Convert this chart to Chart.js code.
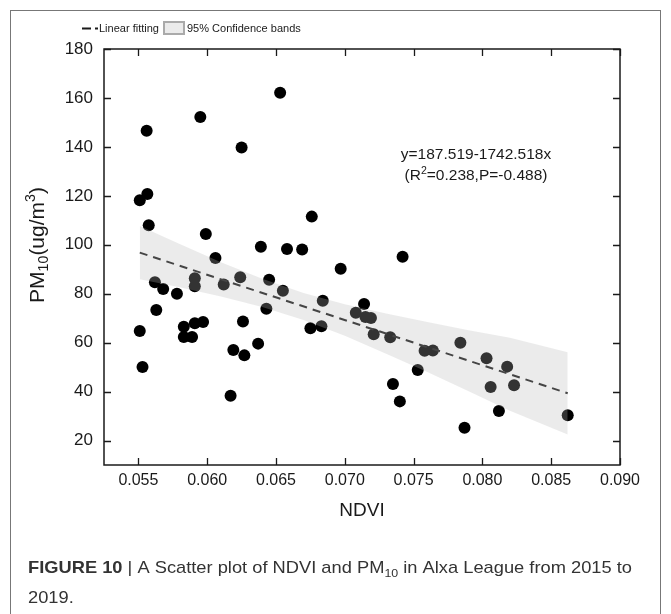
<!DOCTYPE html>
<html>
<head>
<meta charset="utf-8">
<script src="https://cdn.jsdelivr.net/npm/chart.js@4.4.1/dist/chart.umd.min.js"></script>
<style>
  html, body { margin: 0; padding: 0; background: #fff; }
  #wrap { width: 671px; height: 614px; position: relative; }
</style>
</head>
<body>
<div id="wrap"><canvas id="chart"></canvas></div>
<script>
// NDVI / PM10 pairs
const ndvi = [
  0.0653, 0.0595, 0.0556, 0.0625, 0.05565, 0.0551, 0.05575, 0.0599, 0.0639, 0.0658,
  0.0606, 0.0562, 0.0568, 0.0578, 0.0591, 0.0591, 0.0612, 0.0624, 0.0645, 0.0655,
  0.0643, 0.0563, 0.0551, 0.0583, 0.0583, 0.0589, 0.0591, 0.0597, 0.0626, 0.0619,
  0.0627, 0.0637, 0.0553, 0.0617, 0.0669, 0.0697, 0.0742, 0.0684, 0.0714, 0.0708,
  0.0715, 0.0719, 0.0721, 0.0733, 0.0675, 0.0683, 0.0758, 0.0764, 0.0784, 0.0753,
  0.0735, 0.0740, 0.0787, 0.0803, 0.0818, 0.0806, 0.0823, 0.0812, 0.0862, 0.0676,
];
const pm10 = [
  162.1, 152.2, 146.6, 139.7, 120.7, 118.2, 108.0, 104.4, 99.2, 98.3,
  94.6, 84.7, 81.9, 80.0, 86.3, 83.0, 83.8, 86.7, 85.7, 81.2,
  73.9, 73.3, 64.8, 66.5, 62.3, 62.3, 67.9, 68.4, 68.6, 57.0,
  54.8, 59.6, 50.0, 38.3, 98.1, 90.2, 95.1, 77.1, 75.8, 72.2,
  70.5, 70.1, 63.4, 62.2, 65.9, 66.7, 56.7, 56.8, 60.0, 48.8,
  43.1, 36.0, 25.2, 53.6, 50.2, 41.9, 42.6, 32.1, 30.3, 111.5,
];

// fitted line as drawn (end points)
const fitX = [0.0551, 0.0862];
const fitY = [96.8, 39.3];

// 95% confidence band
const bandX = [0.0551, 0.058, 0.061, 0.064, 0.067, 0.070, 0.073, 0.076, 0.079, 0.082, 0.0862];
const bandUpper = [107.7, 100.3, 92.9, 86.1, 80.3, 75.7, 71.9, 68.4, 65.1, 62.0, 56.1];
const bandLower = [85.9, 82.6, 78.9, 74.6, 69.3, 62.8, 55.5, 48.0, 40.1, 32.2, 22.5];

const xTicks = [0.055, 0.06, 0.065, 0.07, 0.075, 0.08, 0.085, 0.09];
const yTicks = [20, 40, 60, 80, 100, 120, 140, 160, 180];

const FONT = "'Liberation Sans', Arial, sans-serif";
const pts = (xs, ys) => xs.map((x, i) => ({ x, y: ys[i] }));

// draw a run of text pieces with sub/superscripts, centered at (cx, cy)
const drawRich = (ctx, parts, cx, cy, size) => {
  const fontFor = (p) => `${p.sub || p.sup ? size * 0.68 : size}px ${FONT}`;
  let total = 0;
  parts.forEach((p) => {
    ctx.font = fontFor(p);
    p.w = ctx.measureText(p.t).width;
    total += p.w;
  });
  let x = cx - total / 2;
  ctx.textAlign = 'left';
  ctx.textBaseline = 'middle';
  parts.forEach((p) => {
    ctx.font = fontFor(p);
    let dy = 0;
    if (p.sub) dy = size * 0.3;
    if (p.sup) dy = -size * 0.32;
    ctx.fillText(p.t, x, cy + dy);
    x += p.w;
  });
};

const figurePlugin = {
  id: 'figure',
  beforeDraw: (chart) => {
    const ctx = chart.ctx;
    ctx.save();
    ctx.fillStyle = '#fff';
    ctx.fillRect(0, 0, chart.width, chart.height);
    ctx.restore();
  },
  afterDraw: (chart) => {
    const { ctx, chartArea: a } = chart;
    const xs = chart.scales.x;
    const ys = chart.scales.y;
    ctx.save();

    // outer figure frame
    ctx.strokeStyle = '#777';
    ctx.lineWidth = 1;
    ctx.strokeRect(10.5, 10.5, 650, 640);

    // axes box + inward ticks
    ctx.strokeStyle = '#1a1a1a';
    ctx.lineWidth = 1.5;
    ctx.strokeRect(a.left, a.top, a.width, a.height);
    ctx.lineWidth = 1.3;
    ctx.beginPath();
    xTicks.forEach((v) => {
      const px = Math.round(xs.getPixelForValue(v)) + 0.5;
      ctx.moveTo(px, a.bottom);
      ctx.lineTo(px, a.bottom - 7);
      ctx.moveTo(px, a.top);
      ctx.lineTo(px, a.top + 7);
    });
    yTicks.forEach((v) => {
      const py = Math.round(ys.getPixelForValue(v)) + 0.5;
      ctx.moveTo(a.left, py);
      ctx.lineTo(a.left + 7, py);
      ctx.moveTo(a.right, py);
      ctx.lineTo(a.right - 7, py);
    });
    ctx.stroke();

    // axis titles
    ctx.fillStyle = '#1a1a1a';
    ctx.font = `19px ${FONT}`;
    ctx.textAlign = 'center';
    ctx.textBaseline = 'middle';
    ctx.fillText('NDVI', (a.left + a.right) / 2, 511);

    ctx.save();
    ctx.translate(38, 245);
    ctx.rotate(-Math.PI / 2);
    drawRich(ctx, [{ t: 'PM' }, { t: '10', sub: true }, { t: '(ug/m' }, { t: '3', sup: true }, { t: ')' }], 0, 0, 21);
    ctx.restore();

    // regression annotation
    ctx.font = `15.5px ${FONT}`;
    ctx.textAlign = 'center';
    ctx.fillText('y=187.519-1742.518x', 476, 155);
    drawRich(ctx, [{ t: '(R' }, { t: '2', sup: true }, { t: '=0.238,P=-0.488)' }], 476, 176, 15.5);

    // legend
    ctx.strokeStyle = '#1a1a1a';
    ctx.lineWidth = 2;
    ctx.beginPath();
    ctx.moveTo(82, 28.5);
    ctx.lineTo(91, 28.5);
    ctx.moveTo(95, 28.5);
    ctx.lineTo(98, 28.5);
    ctx.stroke();
    ctx.font = `11px ${FONT}`;
    ctx.textAlign = 'left';
    ctx.fillText('Linear fitting', 99, 28.5);
    ctx.fillStyle = '#ebebeb';
    ctx.fillRect(164, 22, 20, 12);
    ctx.strokeStyle = '#aaa';
    ctx.lineWidth = 2;
    ctx.strokeRect(164, 22, 20, 12);
    ctx.fillStyle = '#1a1a1a';
    ctx.fillText('95% Confidence bands', 187, 28.5);

    // caption
    ctx.fillStyle = '#333';
    ctx.textBaseline = 'alphabetic';
    const capSize = 17;
    const bold = 'FIGURE 10 ';
    const rest1 = ' A Scatter plot of NDVI and PM';
    const rest2 = ' in Alxa League from 2015 to';
    ctx.font = `bold ${capSize}px ${FONT}`;
    const wb = ctx.measureText(bold).width;
    ctx.font = `${capSize}px ${FONT}`;
    const wbar = ctx.measureText('|').width;
    const w1 = ctx.measureText(rest1).width;
    const w2 = ctx.measureText(rest2).width;
    ctx.font = `${capSize * 0.68}px ${FONT}`;
    const wsub = ctx.measureText('10').width;
    const natural = wb + wbar + w1 + wsub + w2;
    const sx = 604 / natural;
    ctx.save();
    ctx.translate(28, 573);
    ctx.scale(sx, 1);
    let cx = 0;
    ctx.font = `bold ${capSize}px ${FONT}`;
    ctx.fillText(bold, cx, 0);
    cx += wb;
    ctx.font = `${capSize}px ${FONT}`;
    ctx.fillText('|', cx, 0);
    cx += wbar;
    ctx.fillText(rest1, cx, 0);
    cx += w1;
    ctx.font = `${capSize * 0.68}px ${FONT}`;
    ctx.fillText('10', cx, 4);
    cx += wsub;
    ctx.font = `${capSize}px ${FONT}`;
    ctx.fillText(rest2, cx, 0);
    ctx.fillText('2019.', 0, 30);
    ctx.restore();

    ctx.restore();
  },
};

new Chart(document.getElementById('chart'), {
  type: 'scatter',
  data: {
    datasets: [
      {
        label: 'Linear fitting',
        type: 'line',
        data: pts(fitX, fitY),
        borderColor: '#454545',
        borderWidth: 2,
        borderDash: [8, 6],
        pointRadius: 0,
        fill: false,
        order: 0,
      },
      {
        label: 'upper',
        type: 'line',
        data: pts(bandX, bandUpper),
        borderWidth: 0,
        borderColor: 'rgba(0,0,0,0)',
        backgroundColor: 'rgba(183,183,183,0.28)',
        pointRadius: 0,
        fill: '+1',
        order: 1,
      },
      {
        label: 'lower',
        type: 'line',
        data: pts(bandX, bandLower),
        borderWidth: 0,
        borderColor: 'rgba(0,0,0,0)',
        pointRadius: 0,
        fill: false,
        order: 1,
      },
      {
        label: 'PM10',
        data: pts(ndvi, pm10),
        backgroundColor: '#000',
        borderColor: '#000',
        borderWidth: 0,
        pointRadius: 6,
        order: 2,
      },
    ],
  },
  options: {
    responsive: true,
    maintainAspectRatio: false,
    animation: false,
    layout: { padding: { left: 0, right: 51, top: 49, bottom: 0 } },
    plugins: {
      legend: { display: false },
      tooltip: { enabled: false },
    },
    scales: {
      x: {
        type: 'linear',
        min: 0.0525,
        max: 0.09,
        grid: { display: false, drawTicks: false },
        border: { display: false },
        afterBuildTicks: (scale) => {
          scale.ticks = xTicks.map((value) => ({ value }));
        },
        afterFit: (scale) => {
          scale.height = 149;
        },
        ticks: {
          padding: 6,
          color: '#1a1a1a',
          font: { family: FONT, size: 16 },
          callback: (value) => value.toFixed(3),
        },
      },
      y: {
        type: 'linear',
        min: 10,
        max: 180,
        grid: { display: false, drawTicks: false },
        border: { display: false },
        afterBuildTicks: (scale) => {
          scale.ticks = yTicks.map((value) => ({ value }));
        },
        afterFit: (scale) => {
          scale.width = 104;
        },
        ticks: {
          padding: 11,
          color: '#1a1a1a',
          font: { family: FONT, size: 17 },
        },
      },
    },
  },
  plugins: [figurePlugin],
});
</script>
</body>
</html>
